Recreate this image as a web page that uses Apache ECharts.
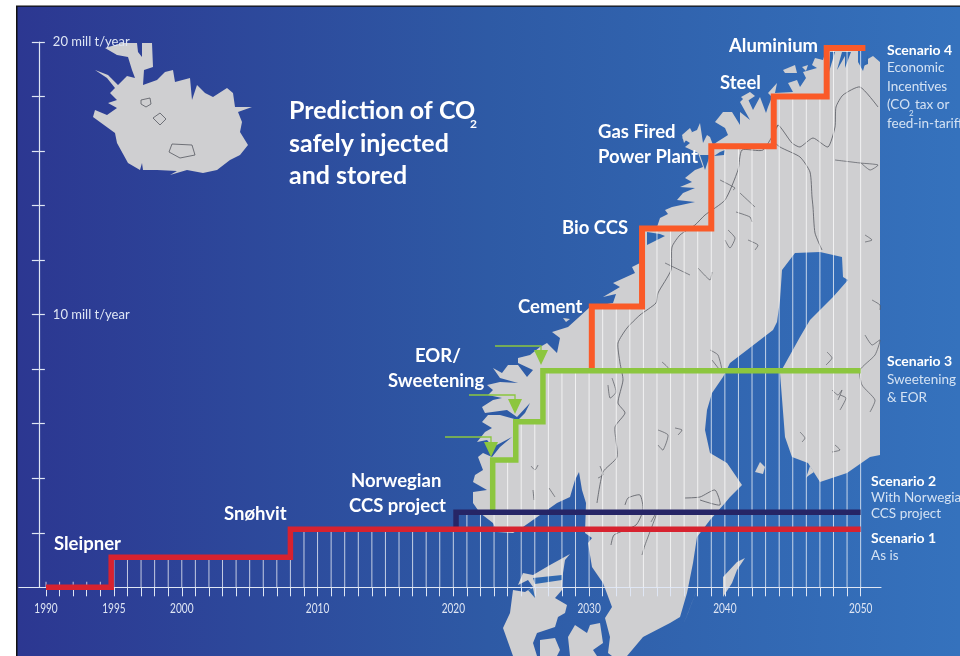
<!DOCTYPE html>
<html><head><meta charset="utf-8">
<style>html,body{margin:0;padding:0;background:#fff}#c{width:960px;height:656px}</style>
<script src="https://cdn.jsdelivr.net/npm/echarts@6/dist/echarts.min.js"></script>
</head><body><div id="c"></div>
<script>
// ---- data ----
const redYears    = [1990, 1994.8, 2008, 2050];
const redValues   = [0, 1.1, 2.13, 2.13];
const navyYears   = [2020.2, 2020.2, 2050];
const navyValues  = [2.13, 2.75, 2.75];
const greenYears  = [2022.9, 2022.9, 2024.6, 2026.6, 2050];
const greenValues = [2.75, 4.67, 6.07, 7.94, 7.94];
const orangeYears = [2030.2, 2030.2, 2033.9, 2039, 2043.6, 2047.5, 2050.35];
const orangeValues= [7.94, 10.3, 13.16, 16.18, 18.0, 19.78, 19.78];
const stripeYears = [1990,1991,1992,1993,1994,1995,1996,1997,1998,1999,2000,2001,2002,2003,2004,2005,2006,2007,2008,2009,2010,2011,2012,2013,2014,2015,2016,2017,2018,2019,2020,2021,2022,2023,2024,2025,2026,2027,2028,2029,2030,2031,2032,2033,2034,2035,2036,2037,2038,2039,2040,2041,2042,2043,2044,2045,2046,2047,2048,2049,2050];
const stripeTops  = [0.2,0.2,0.2,0.2,0.2,1.1,1.1,1.1,1.1,1.1,1.1,1.1,1.1,1.1,1.1,1.1,1.1,1.1,2.13,2.13,2.13,2.13,2.13,2.13,2.13,2.13,2.13,2.13,2.13,2.13,2.13,2.75,2.75,4.67,4.67,6.07,6.07,7.94,7.94,7.94,7.94,10.3,10.3,10.3,13.16,13.16,13.16,13.16,13.16,16.18,16.18,16.18,16.18,16.18,18,18,18,18,19.78,19.78,19.78];
const xTickLabels = [1990,1995,2000,2010,2020,2030,2040,2050];
const yTickValues = [2,4,6,8,10,12,14,16,18,20];
const yTickLabels = [10,20];

// ---- decorative map outlines (background artwork, in page pixels) ----
const scandinavia = [[880,62],[873,56],[866,60],[863,71],[858,62],[858,50],[826,50],[823,60],[815,58],[812,65],[817,68],[803,72],[806,78],[800,87],[797,80],[788,83],[793,92],[775,93],[777,83],[768,93],[772,97],[768,107],[766,113],[760,97],[753,110],[747,97],[750,92],[740,102],[750,120],[740,112],[740,125],[732,112],[723,112],[715,122],[725,128],[728,135],[717,142],[713,145],[710,137],[707,135],[703,143],[700,123],[697,130],[690,133],[682,138],[690,143],[685,147],[698,153],[703,167],[695,170],[685,178],[692,182],[680,187],[695,188],[683,193],[677,200],[695,202],[672,207],[665,210],[668,214],[660,218],[657,227],[643,230],[645,245],[640,263],[632,267],[635,273],[613,283],[620,287],[603,297],[616,294],[613,303],[590,307],[578,318],[568,327],[552,332],[560,338],[557,353],[547,343],[540,347],[530,355],[518,358],[518,363],[533,370],[527,377],[518,365],[508,365],[502,373],[493,368],[500,378],[518,383],[500,382],[487,385],[493,390],[488,395],[502,398],[493,400],[482,407],[485,413],[507,410],[517,417],[530,403],[525,413],[518,420],[500,415],[488,415],[482,422],[492,428],[485,432],[477,442],[487,440],[493,447],[512,437],[500,447],[492,457],[483,453],[478,457],[483,470],[475,475],[473,482],[487,490],[473,492],[473,503],[480,513],[493,523],[497,532],[513,533],[523,527],[540,515],[557,503],[570,497],[575,480],[579,472],[582,490],[586,503],[585,533],[592,538],[588,543],[592,567],[603,583],[612,607],[605,618],[610,637],[608,653],[612,656],[627,656],[643,637],[670,623],[680,617],[687,593],[693,563],[697,537],[710,520],[725,503],[730,497],[742,485],[727,463],[710,453],[705,430],[707,410],[712,393],[723,377],[730,363],[747,350],[773,330],[777,322],[780,300],[782,270],[795,253],[820,252],[842,257],[843,277],[848,280],[833,297],[810,320],[800,337],[780,373],[785,437],[792,457],[808,463],[820,482],[847,473],[870,457],[880,455]];
const denmark = [[570,554],[565,560],[563,573],[562,590],[555,598],[567,605],[565,613],[558,617],[555,627],[537,633],[533,643],[537,656],[513,656],[503,628],[510,613],[513,590],[525,592],[533,587],[528,580],[518,585],[523,573],[533,575],[550,565]];
const islands = [
 [[568,637],[575,625],[587,633],[590,625],[600,623],[603,643],[593,650],[597,656],[570,656]],
 [[540,640],[555,638],[560,650],[557,656],[540,656]],
 [[723,597],[723,577],[737,562],[745,558],[737,570],[732,583]],
 [[684,623],[698,587],[688,613]],
 [[755,472],[760,462],[765,467],[763,474]],
 [[806,478],[810,466],[814,472],[808,476]],
 [[783,70],[795,65],[797,73],[785,73]],
 [[802,67],[808,65],[806,71]],
 [[741,97],[750,92],[755,96],[746,102]],
 [[682,135],[690,128],[692,132],[684,143]],
 [[563,318],[570,319],[566,322]],
 [[590,532],[598,532],[594,540]]
];
const iceland = [[95,70],[108,75],[118,85],[127,76],[135,78],[132,70],[128,57],[117,55],[105,48],[122,43],[137,43],[138,52],[142,57],[142,43],[152,43],[153,67],[144,70],[143,85],[157,80],[165,72],[173,70],[175,82],[190,78],[192,100],[197,85],[205,93],[213,97],[227,88],[233,93],[235,107],[252,107],[238,112],[242,122],[240,132],[248,145],[240,155],[230,160],[217,170],[203,173],[187,170],[170,175],[177,171],[157,170],[143,170],[142,163],[140,170],[128,163],[117,143],[115,133],[93,117],[95,110],[107,115],[117,108],[108,103],[117,100],[110,93],[115,88],[107,78]];
const iceLakes = [[[141,100],[150,98],[151,104],[146,107],[141,104]],[[153,118],[160,113],[166,119],[160,125]],[[172,144],[192,145],[195,155],[180,158],[169,152]]];
const borders = [
 [[878,107],[860,87],[843,95],[836,107],[835,127],[828,147],[813,138],[800,147],[792,143],[778,125],[773,140],[780,147],[800,157],[810,172],[812,197],[813,207],[815,233],[822,250]],
 [[778,125],[763,150],[742,150],[738,170],[725,200],[705,215],[695,225],[680,235],[672,247],[671,270],[658,293],[656,303],[640,315],[627,328],[618,343],[620,363],[623,380],[618,403],[625,413],[615,427],[617,457],[603,472],[597,503]],
 [[625,505],[628,498],[640,495],[643,510],[636,525],[614,535],[611,545]],
 [[685,498],[700,497],[715,490],[720,505],[700,500]]
];
const lakes = [[[720,180],[735,188],[733,190]],[[740,193],[755,207]],[[736,212],[750,217],[752,222]],[[728,230],[735,238],[730,248],[725,240]],[[665,263],[690,275]],[[712,272],[710,280],[698,268]],[[710,350],[718,355],[722,372],[712,360]],[[612,378],[616,392],[610,398],[608,385]],[[658,430],[668,435],[663,450],[658,445]],[[675,428],[682,430],[678,435]],[[662,362],[668,368],[660,372]],[[651,522],[658,510],[645,545],[642,555]],[[827,352],[832,358],[826,365]],[[840,395],[846,398],[840,410]],[[835,445],[840,450],[832,452]],[[865,335],[872,345],[880,340],[875,355],[860,370],[862,385],[875,400],[870,412]],[[832,390],[838,395],[842,390],[838,400]],[[800,432],[805,438],[802,442]],[[748,240],[758,245],[755,250]],[[865,235],[872,240],[865,242]],[[872,300],[880,305],[880,310]],[[835,160],[860,163],[878,165],[870,170],[860,162]],[[538,465],[535,470],[531,466]],[[533,490],[534,500]],[[549,488],[555,497]],[[600,466],[603,475],[598,478]]];
const fjords = [[[830,52],[829,72],[835,52]],[[842,52],[837,70],[845,56],[845,68],[851,52]],[[868,55],[863,66],[868,64]],[[647,232],[660,234],[665,236],[647,245]],[[720,152],[725,150],[724,155],[714,156]],[[700,155],[705,170],[710,155]],[[533,578],[562,575],[562,580],[535,584]],[[528,590],[535,598],[533,588]]];

// ---- text ----
const title = ['Prediction of CO','safely injected','and stored'];
const stepLabels = ['Aluminium','Steel','Gas Fired','Power Plant','Bio CCS','Cement','EOR/','Sweetening','Norwegian','CCS project','Snøhvit','Sleipner'];
const stepAnchors = [[729,46],[720,83],[598,132],[598,157],[562,228],[518,307],[415,356],[388,381],[351,481],[349,506],[224,514],[54,544]];
const sideHeads = ['Scenario 4','Scenario 3','Scenario 2','Scenario 1'];
const sideHeadAnchors = [[887,50],[887,361],[871,481],[871,538]];
const sideLines = ['Economic','Incentives','(CO','tax or','feed-in-tariff','Sweetening','& EOR','With Norwegian','CCS project','As is'];
const sideLineAnchors = [[887,68],[887,87],[887,105],[915,105],[887,124],[887,380],[887,398],[871,498],[871,514],[871,556]];

const GRAY='#cfcfd1', OCEAN='#3068b0', FONT='Lato, "Open Sans", sans-serif';
const gfx=[];
gfx.push({type:'rect',z:-10,shape:{x:17,y:6,width:943,height:650},style:{fill:new echarts.graphic.LinearGradient(0,0,1,0,[{offset:0,color:'#2c3791'},{offset:.5,color:'#2e5aa5'},{offset:1,color:'#3572bd'}])}});
gfx.push({type:'rect',z:-9,shape:{x:16,y:6,width:1.5,height:650},style:{fill:'#111'}});
gfx.push({type:'rect',z:-9,shape:{x:16,y:5.5,width:944,height:1.3},style:{fill:'#111'}});
const poly=(pts,fill,z)=>gfx.push({type:'polygon',z:z||-5,silent:true,shape:{points:pts},style:{fill:fill}});
const outline=(pts,closed,w)=>gfx.push({type:closed?'polygon':'polyline',z:-4,silent:true,shape:{points:pts,smooth:closed?0:0.2},style:{fill:closed?GRAY:'none',stroke:'#55585f',lineWidth:w||0.8}});
poly(iceland,GRAY);poly(scandinavia,GRAY);poly(denmark,GRAY);islands.forEach(p=>poly(p,GRAY));
fjords.forEach(p=>poly(p,OCEAN,-4));
iceLakes.forEach(p=>outline(p,true));
borders.forEach(p=>outline(p,false));
lakes.forEach(p=>outline(p,false,0.7));

const txt=(s,x,y,size,weight,color)=>gfx.push({type:'text',z:30,silent:true,style:{text:s,x:x,y:y,fill:color,font:weight+' '+size+'px '+FONT,textVerticalAlign:'middle',textAlign:'left'}});
title.forEach((s,i)=>txt(s,289,[111,144,176][i],25,700,'#fff'));
txt('2',470,124,12,700,'#fff');
stepLabels.forEach((s,i)=>txt(s,stepAnchors[i][0],stepAnchors[i][1],18.5,700,'#fff'));
sideHeads.forEach((s,i)=>txt(s,sideHeadAnchors[i][0],sideHeadAnchors[i][1],14,700,'#fff'));
sideLines.forEach((s,i)=>txt(s,sideLineAnchors[i][0],sideLineAnchors[i][1],13.5,400,'#d4e2f3'));
txt('2',909,113,8,400,'#d4e2f3');

// arrows pointing at fields on the coast
const GREEN='#8cc63f';
[[[495,346],[541,346],[541,352]],[[469,395],[515,395],[515,401]],[[445,437],[491,437],[491,444]]].forEach(l=>{
 gfx.push({type:'polyline',z:20,silent:true,shape:{points:l},style:{stroke:GREEN,lineWidth:1.3,fill:'none'}});
 const [x,y]=l[2];
 gfx.push({type:'polygon',z:20,silent:true,shape:{points:[[x-7,y-2],[x+7,y-2],[x,y+13]]},style:{fill:GREEN}});
});

const pairs=(a,b)=>a.map((v,i)=>[v,b[i]]);
const stepSeries=(name,xs,ys,color,w)=>({name,type:'line',step:'end',showSymbol:false,data:pairs(xs,ys),z:5,silent:true,
  lineStyle:{color,width:w,cap:'butt',join:'miter'}});

const chart=echarts.init(document.getElementById('c'),null,{renderer:'canvas'});
const axisWhite='#dfe6f4';
chart.setOption({
 animation:false,
 backgroundColor:'#fff',
 graphic:{elements:gfx},
 grid:{left:18.86,right:79,top:42,bottom:68.7,containLabel:false},
 xAxis:{type:'value',min:1988,max:2051.5,z:1,splitLine:{show:false},
  axisLine:{onZero:false,lineStyle:{color:axisWhite,width:1.2}},
  axisTick:{show:true,customValues:stripeYears,length:9,lineStyle:{color:axisWhite,width:1}},
  axisLabel:{show:false}},
 yAxis:[
  {type:'value',min:0,max:20,z:1,position:'left',offset:-20,splitLine:{show:false},
   axisLine:{show:true,onZero:false,lineStyle:{color:axisWhite,width:1.2}},
   axisTick:{show:true,customValues:yTickValues,length:7,lineStyle:{color:axisWhite,width:1.2}},
   axisLabel:{show:false}},
  {type:'value',min:0,max:20,z:31,position:'left',offset:-20,splitLine:{show:false},
   axisLine:{show:false},
   axisTick:{show:true,inside:true,customValues:yTickValues,length:6,lineStyle:{color:axisWhite,width:1.2}},
   axisLabel:{show:true,inside:true,customValues:yTickLabels,margin:14,color:'#dfe6f4',fontSize:13,fontFamily:FONT,formatter:v=>v+' mill t/year'}}
 ],
 series:[
  {name:'Years',type:'bar',barWidth:1,silent:true,z:3,data:pairs(stripeYears,stripeTops),itemStyle:{color:'rgba(255,255,255,0.72)'}},
  stepSeries('Scenario 4',orangeYears,orangeValues,'#fa5a28',6),
  stepSeries('Scenario 3',greenYears,greenValues,GREEN,5.5),
  stepSeries('Scenario 2',navyYears,navyValues,'#262566',5.5),
  stepSeries('Scenario 1',redYears,redValues,'#d7222f',5.5)
 ]
});
// condensed year labels, placed through the axis scale
xTickLabels.forEach(v=>{
 const px=chart.convertToPixel({xAxisIndex:0},v);
 gfx.push({type:'text',z:30,silent:true,x:px,y:608,scaleX:0.72,style:{text:String(v),x:0,y:0,fill:'#dfe6f4',font:'400 14px '+FONT,textAlign:'center',textVerticalAlign:'middle'}});
});
chart.setOption({graphic:{elements:gfx}});
</script></body></html>
